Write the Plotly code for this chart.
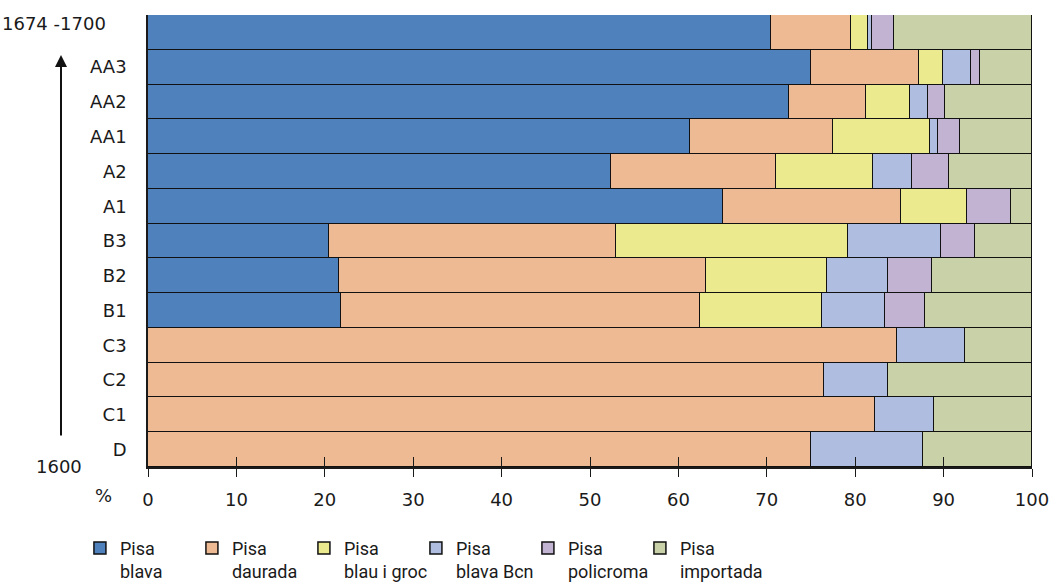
import plotly.graph_objects as go

categories = ["D", "C1", "C2", "C3", "B1", "B2", "B3", "A1", "A2", "AA1", "AA2", "AA3", "1674 -1700"]
tick_labels = ["D", "C1", "C2", "C3", "B1", "B2", "B3", "A1", "A2", "AA1", "AA2", "AA3", ""]

series_names = ["Pisa<br>blava", "Pisa<br>daurada", "Pisa<br>blau i groc", "Pisa<br>blava Bcn", "Pisa<br>policroma", "Pisa<br>importada"]
pisa_blava = [0, 0, 0, 0, 21.8, 21.6, 20.5, 65.0, 52.4, 61.3, 72.5, 75.0, 70.5]
pisa_daurada = [75.0, 82.2, 76.5, 84.7, 40.6, 41.5, 32.4, 20.2, 18.6, 16.2, 8.7, 12.2, 9.0]
pisa_blau_groc = [0, 0, 0, 0, 13.9, 13.7, 26.3, 7.4, 11.0, 11.0, 5.0, 2.7, 2.0]
pisa_blava_bcn = [12.7, 6.7, 7.2, 7.7, 7.1, 6.9, 10.5, 0, 4.4, 0.9, 2.0, 3.2, 0.4]
pisa_policroma = [0, 0, 0, 0, 4.5, 5.0, 3.9, 5.0, 4.2, 2.5, 2.0, 1.0, 2.5]
pisa_importada = [12.3, 11.1, 16.3, 7.6, 12.1, 11.3, 6.4, 2.4, 9.4, 8.1, 9.8, 5.9, 15.6]

colors = ["#4f81bd", "#eeba93", "#ebea8f", "#afbde0", "#c3b3d2", "#c9d1a8"]
x_ticks = [0, 10, 20, 30, 40, 50, 60, 70, 80, 90, 100]

FONT = "DejaVu Sans, sans-serif"
LEG_FONT = "Roboto, sans-serif"
FS = 18

fig = go.Figure()
for name, vals, col in zip(series_names,
                           [pisa_blava, pisa_daurada, pisa_blau_groc, pisa_blava_bcn, pisa_policroma, pisa_importada],
                           colors):
    fig.add_trace(go.Bar(
        y=categories, x=vals, name=name, orientation="h",
        marker=dict(color=col, line=dict(color="#111111", width=1.5)),
        hoverinfo="skip",
    ))

# empty legend slot so the last legend label is not clipped
fig.add_trace(go.Bar(y=[categories[0]], x=[0], name=" ", orientation="h",
                     marker=dict(color="rgba(0,0,0,0)", line=dict(width=0)), hoverinfo="skip"))

# invisible trace on overlay axis for inner tick marks
fig.add_trace(go.Scatter(x=[0, 100], y=[None, None], xaxis="x2", yaxis="y", showlegend=False, hoverinfo="skip"))

fig.update_layout(
    width=1049, height=584,
    barmode="stack", bargap=0,
    paper_bgcolor="white", plot_bgcolor="white",
    margin=dict(l=148, r=17, t=15, b=117, autoexpand=False),
    font=dict(family=FONT, size=FS, color="#1a1a1a"),
    xaxis=dict(range=[0, 100], tickvals=x_ticks, ticks="outside", ticklen=8, tickcolor="#1a1a1a",
               tickwidth=1, showgrid=False, zeroline=False, showline=True, linecolor="#1a1a1a",
               linewidth=1.5, ticklabelstandoff=8, ticklabeloverflow="allow", tickfont=dict(size=FS)),
    xaxis2=dict(range=[0, 100], tickvals=x_ticks, ticks="inside", ticklen=10, tickcolor="#1a1a1a",
                overlaying="x", side="bottom", showticklabels=False, showgrid=False, zeroline=False),
    yaxis=dict(categoryorder="array", categoryarray=categories, tickvals=categories, ticktext=tick_labels,
               showgrid=False, zeroline=False, showline=True, linecolor="#1a1a1a", linewidth=1.5,
               ticks="", ticklabelstandoff=16, tickfont=dict(size=FS)),
    legend=dict(orientation="h", x=-0.077, xanchor="left", y=-0.139, yanchor="top",
                traceorder="normal", entrywidth=67, entrywidthmode="pixels", valign="top",
                font=dict(size=FS, family=LEG_FONT), itemclick=False, itemdoubleclick=False),
    showlegend=True,
)

fig.add_annotation(text="1674 -1700", xref="paper", yref="paper", x=(54 - 148) / 884, y=(467 - 23) / 452,
                   showarrow=False, xanchor="center", yanchor="middle", font=dict(size=FS))
fig.add_annotation(text="1600", xref="paper", yref="paper", x=(59 - 148) / 884, y=(467 - 466) / 452,
                   showarrow=False, xanchor="center", yanchor="middle", font=dict(size=FS))
fig.add_annotation(text="%", xref="paper", yref="paper", x=(103 - 148) / 884, y=-(496 - 467) / 452,
                   showarrow=False, xanchor="center", yanchor="middle", font=dict(size=FS))
fig.add_annotation(text="", xref="paper", yref="paper", x=(61 - 148) / 884, y=(467 - 55) / 452,
                   ax=0, ay=382, axref="pixel", ayref="pixel",
                   showarrow=True, arrowhead=2, arrowsize=1.2, arrowwidth=2, arrowcolor="#111111")

fig.write_html("out.html", config={"displayModeBar": False},
               post_script="document.body.style.margin='0';document.body.style.padding='0';")
